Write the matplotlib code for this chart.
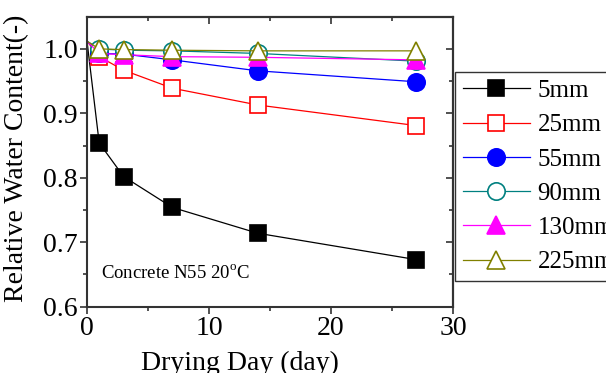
import matplotlib
matplotlib.use("Agg")
import matplotlib.pyplot as plt

days = [0, 1, 3, 7, 14, 27]
labels = ["5mm", "25mm", "55mm", "90mm", "130mm", "225mm"]
wc_5 = [1.012, 0.854, 0.802, 0.754, 0.714, 0.673]
wc_25 = [1.012, 0.988, 0.967, 0.939, 0.913, 0.881]
wc_55 = [1.012, 0.993, 0.992, 0.983, 0.966, 0.949]
wc_90 = [1.012, 1.000, 0.998, 0.997, 0.993, 0.981]
wc_130 = [1.012, 0.993, 0.991, 0.988, 0.987, 0.983]
wc_225 = [1.012, 1.000, 0.999, 0.998, 0.997, 0.997]

plt.rcParams['font.family'] = ['Liberation Serif', 'DejaVu Serif']
plt.rcParams['mathtext.fontset'] = 'custom'
plt.rcParams['mathtext.rm'] = 'Liberation Serif'

fig = plt.figure(figsize=(6.06, 3.73), dpi=100)
ax = fig.add_axes([87/606, 1-306.7/373, (453-87)/606, (306.7-16.7)/373])

styles = [
    dict(color='black', marker='s', mfc='black', mec='black', ms=11),
    dict(color='red', marker='s', mfc='white', mec='red', ms=11),
    dict(color='blue', marker='o', mfc='blue', mec='blue', ms=12.5),
    dict(color='#008080', marker='o', mfc='white', mec='#008080', ms=12.5),
    dict(color='magenta', marker='^', mfc='magenta', mec='magenta', ms=13),
    dict(color='#808000', marker='^', mfc='white', mec='#808000', ms=13),
]
series = [wc_5, wc_25, wc_55, wc_90, wc_130, wc_225]
handles = []
for lab, ys, st in zip(labels, series, styles):
    h, = ax.plot(days, ys, lw=0.9, markevery=list(range(1, len(days))),
                 mew=1.2, label=lab, clip_on=False, **st)
    handles.append(h)

ax.set_xlim(0, 30)
ax.set_ylim(0.6, 1.05)
ax.set_xticks([0, 10, 20, 30])
ax.set_xticks([5, 15, 25], minor=True)
ax.set_yticks([0.6, 0.7, 0.8, 0.9, 1.0])
ax.set_yticks([0.65, 0.75, 0.85, 0.95], minor=True)
ax.set_yticklabels(['0.6', '0.7', '0.8', '0.9', '1.0'])
for s in ax.spines.values():
    s.set_linewidth(1.5)
    s.set_color('#333333')
ax.tick_params(which='major', direction='out', length=5, width=1.2, labelsize=20,
               color='#333333', pad=1.5)
ax.tick_params(which='minor', direction='out', length=3, width=1.2, color='#333333')

sx = ax.secondary_xaxis('top')
sx.set_xticks([0, 10, 20, 30])
sx.set_xticks([5, 15, 25], minor=True)
sx.tick_params(which='major', direction='in', length=5, width=1.2, labeltop=False, color='#333333')
sx.tick_params(which='minor', direction='in', length=3, width=1.2, color='#333333')
sx.spines['top'].set_linewidth(1.5)
sy = ax.secondary_yaxis('right')
sy.set_yticks([0.6, 0.7, 0.8, 0.9, 1.0])
sy.set_yticks([0.65, 0.75, 0.85, 0.95], minor=True)
sy.tick_params(which='major', direction='in', length=5, width=1.2, labelright=False, color='#333333')
sy.tick_params(which='minor', direction='in', length=3, width=1.2, color='#333333')
sy.spines['right'].set_linewidth(1.5)

ax.set_xlabel('Drying Day (day)', fontsize=20)
ax.xaxis.set_label_coords((240-87)/366, -(373-306.7+3)/290, transform=ax.transAxes)
ax.xaxis.label.set_va('bottom')
ax.set_ylabel('Relative Water Content(-)', fontsize=20)
ax.yaxis.set_label_coords(-(87-17)/366, (306.7-158)/290, transform=ax.transAxes)
ax.yaxis.label.set_va('center')
ax.text((101-87)/366, (306.7-273)/290, r'Concrete N55 20$^{\mathrm{o}}$C', transform=ax.transAxes,
        fontsize=13.5, ha='left', va='center')

leg = fig.legend(handles=handles, loc='upper left', bbox_to_anchor=(455/606, 1-72/373),
                 fontsize=18, frameon=True, fancybox=False, edgecolor='black',
                 handlelength=2.7, handletextpad=0.3, labelspacing=0.47,
                 borderpad=0.3, borderaxespad=0)
leg.get_frame().set_linewidth(1.0)

fig.savefig('out.png', dpi=100)
